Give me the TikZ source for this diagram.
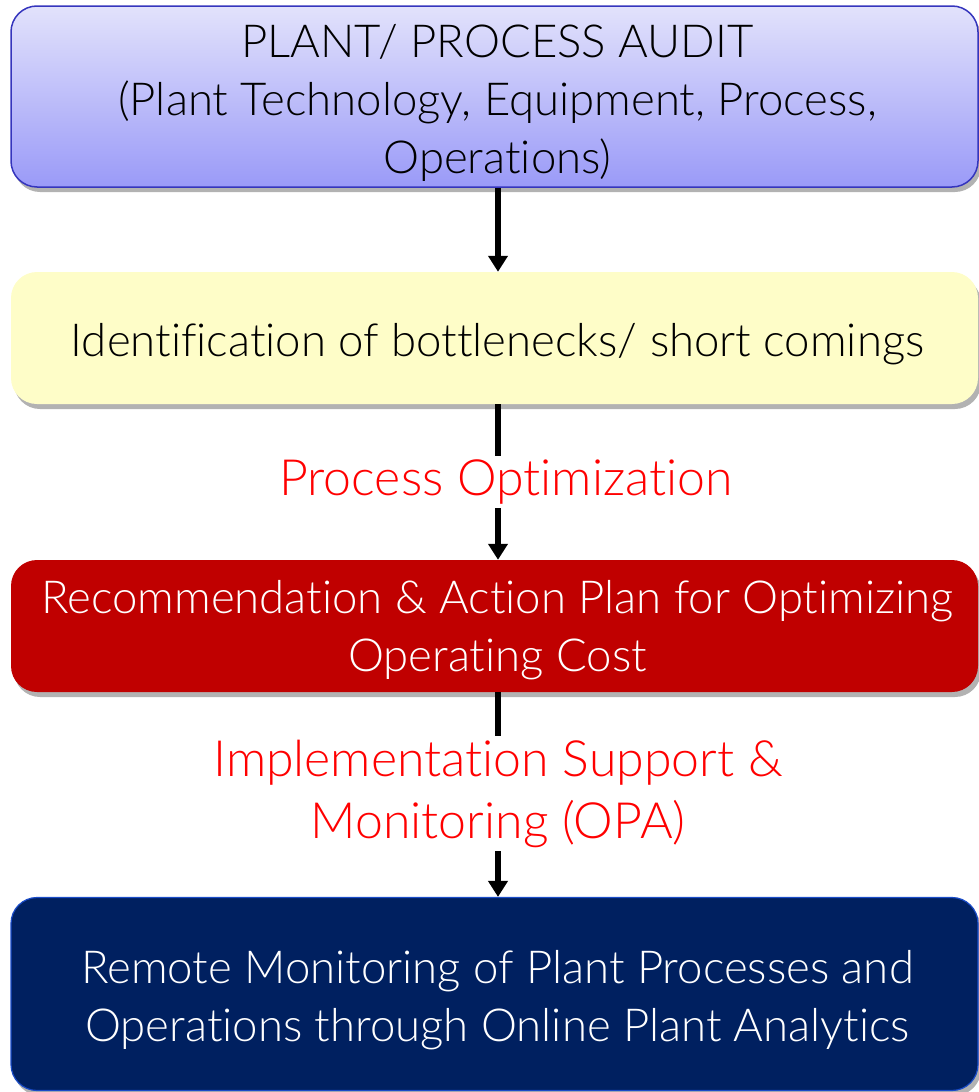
\documentclass[tikz,border=0pt]{standalone}
\usepackage{fontspec}
\setmainfont{Lato Light}[Ligatures={NoCommon,NoRare,NoContextual}]
\usetikzlibrary{shadows,arrows.meta}
\definecolor{boxAtop}{HTML}{E2E2FB}
\definecolor{boxAbot}{HTML}{9A9AF8}
\definecolor{boxAline}{HTML}{3535BD}
\definecolor{boxB}{HTML}{FEFDC8}
\definecolor{boxC}{HTML}{C00000}
\definecolor{boxD}{HTML}{002060}
\definecolor{boxDline}{HTML}{1A4CC8}
\definecolor{labred}{HTML}{FF0000}
\tikzset{
  stage/.style={rectangle, rounded corners=26pt, minimum width=967pt, inner sep=0pt,
    drop shadow={shadow xshift=3pt, shadow yshift=-5pt, opacity=0.3, fill=black}},
  stagetext/.style={align=center, inner sep=0pt, font=\fontsize{45.5}{58}\selectfont},
  flow/.style={line width=6pt, -{Triangle[width=19pt,length=16pt]}},
  lab/.style={text=labred, fill=white, align=center, inner xsep=2pt, inner ysep=4pt,
    font=\fontsize{50}{62}\selectfont}
}
\begin{document}
\begin{tikzpicture}[x=1pt,y=-1pt]
\useasboundingbox (0,0) rectangle (978,1092);
\node[stage, top color=boxAtop, bottom color=boxAbot, draw=boxAline, line width=1.5pt,
  minimum height=181pt] (audit) at (494.5,96.5) {};
\node[stagetext] (auditText) at ([xshift=3pt,yshift=-6pt]audit.center)
  {PLANT/ PROCESS AUDIT\\(Plant Technology, Equipment, Process,\\Operations)};
\node[stage, fill=boxB, minimum height=132pt] (ident) at (494.5,338) {};
\node[stagetext] (identText) at ([xshift=3pt,yshift=-6pt]ident.center)
  {Identification of bottlenecks/ short comings};
\node[stage, fill=boxC, minimum height=132pt] (rec) at (494.5,626) {};
\node[stagetext, text=white] (recText) at ([xshift=3pt,yshift=-4pt]rec.center)
  {Recommendation \& Action Plan for Optimizing\\Operating Cost};
\node[stage, fill=boxD, draw=boxDline, line width=1.2pt, minimum height=193pt] (remote) at (494.5,994) {};
\node[stagetext, text=white] (remoteText) at ([xshift=3pt,yshift=-6pt]remote.center)
  {Remote Monitoring of Plant Processes and\\Operations through Online Plant Analytics};
\draw[flow] ([xshift=3.5pt]audit.south) -- ([xshift=3.5pt]ident.north);
\draw[flow] ([xshift=3.5pt]ident.south) -- node[lab, xshift=8pt] (popt) {Process Optimization} ([xshift=3.5pt]rec.north);
\draw[flow] ([xshift=3.5pt]rec.south) -- node[lab, yshift=1pt] (impl) {Implementation Support \&\\Monitoring (OPA)} ([xshift=3.5pt]remote.north);
\end{tikzpicture}
\end{document}
